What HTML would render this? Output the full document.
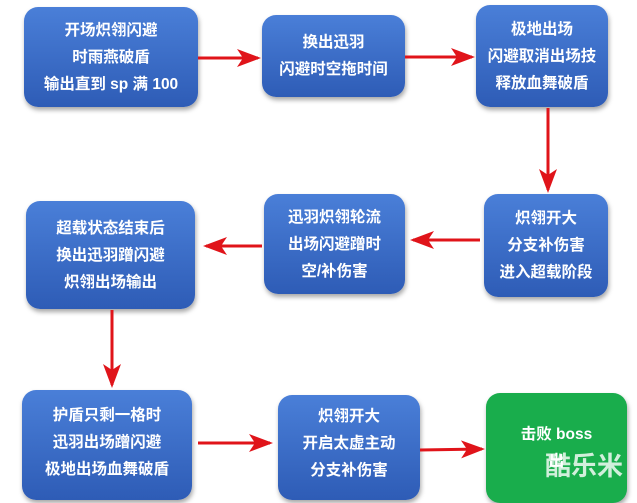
<!DOCTYPE html>
<html><head><meta charset="utf-8"><style>
body{margin:0;width:637px;height:483px;background:#fff;position:relative;overflow:hidden;font-family:"Liberation Sans","Noto Sans CJK SC",sans-serif}
.b{position:absolute;border-radius:14px;background:linear-gradient(#4a7fd8,#2e5cb6);color:#fff;font-weight:bold;font-size:15.5px;line-height:27px;text-align:center;display:flex;flex-direction:column;justify-content:center;box-shadow:1px 3px 5px rgba(0,0,0,.35)}
.g{background:#19ad4c}
svg{position:absolute;left:0;top:0}
</style></head><body>
<div class="b" style="left:24px;top:7px;width:174px;height:100px">开场炽翎闪避<br>时雨燕破盾<br>输出直到 sp 满 100</div>
<div class="b" style="left:262px;top:15px;width:143px;height:82px">换出迅羽<br>闪避时空拖时间</div>
<div class="b" style="left:476px;top:5px;width:132px;height:102px">极地出场<br>闪避取消出场技<br>释放血舞破盾</div>
<div class="b" style="left:484px;top:194px;width:124px;height:103px">炽翎开大<br>分支补伤害<br>进入超载阶段</div>
<div class="b" style="left:264px;top:194px;width:141px;height:100px">迅羽炽翎轮流<br>出场闪避蹭时<br>空/补伤害</div>
<div class="b" style="left:26px;top:201px;width:169px;height:108px">超载状态结束后<br>换出迅羽蹭闪避<br>炽翎出场输出</div>
<div class="b" style="left:22px;top:390px;width:170px;height:110px;justify-content:flex-start;padding-top:12px;box-sizing:border-box">护盾只剩一格时<br>迅羽出场蹭闪避<br>极地出场血舞破盾</div>
<div class="b" style="left:278px;top:395px;width:142px;height:105px;justify-content:flex-start;padding-top:8px;box-sizing:border-box">炽翎开大<br>开启太虚主动<br>分支补伤害</div>
<div class="b g" style="left:486px;top:393px;width:141px;height:110px;justify-content:flex-start;padding-top:28px;box-sizing:border-box">击败 boss<br>出</div>
<div style="position:absolute;left:545px;top:446px;color:rgba(255,255,255,.8);font-weight:bold;font-size:26px;font-family:'Noto Sans CJK SC',sans-serif">酷乐米</div>
<svg width="637" height="483">
<defs><marker id="a" markerWidth="8" markerHeight="6" refX="7" refY="3" orient="auto" markerUnits="strokeWidth"><path d="M0,0 L8,3 L0,6 L2,3z" fill="#e0141a"/></marker></defs>
<g stroke="#e0141a" stroke-width="3" marker-end="url(#a)">
<line x1="198" y1="58" x2="258" y2="58"/>
<line x1="405" y1="57" x2="472" y2="57"/>
<line x1="548" y1="108" x2="548" y2="190"/>
<line x1="480" y1="240" x2="413" y2="240"/>
<line x1="262" y1="246" x2="206" y2="246"/>
<line x1="112" y1="310" x2="112" y2="385"/>
<line x1="198" y1="443" x2="270" y2="443"/>
<line x1="420" y1="450" x2="482" y2="449"/>
</g></svg>
</body></html>
